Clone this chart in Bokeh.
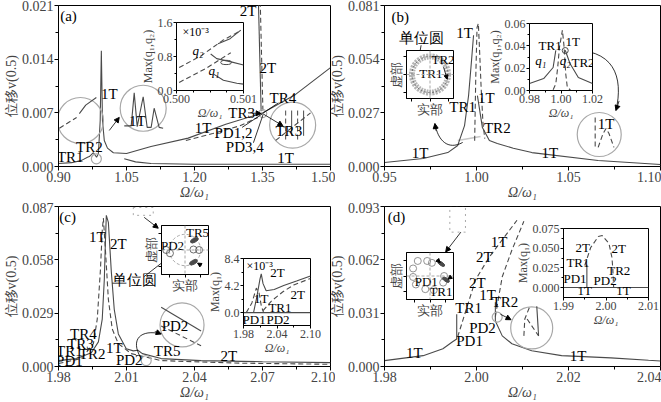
import math
from bokeh.plotting import figure
from bokeh.models import (GridBox, Range1d, FixedTicker, PrintfTickFormatter,
                          CustomJSTickFormatter, Arrow, NormalHead, Span)
from bokeh.embed import file_html
from bokeh.resources import INLINE
from bokeh.core.properties import value

FONT = "Liberation Serif"
INK = "#4a4a4a"
PALE = "#a8a8a8"
DASH = "5 3"
FS_MAIN = "14px"
FS_TXT = "15px"
FS_IN = "12px"

# ======================= DATA =======================
# ---- panel (a) ----
a_xticks = [0.90, 1.05, 1.20, 1.35, 1.50]
a_yticks = [0.000, 0.007, 0.014, 0.021]
a_solid_x = [0.900, 0.929, 0.951, 0.964, 0.968, 0.977, 0.984, 0.988, 0.992, 0.9945, 0.997,
             1.001, 1.008, 1.021, 1.050, 1.104, 1.186, 1.269, 1.351, 1.423, 1.500]
a_solid_y = [0.0004, 0.0005, 0.0008, 0.0012, 0.0013, 0.0018, 0.0012, 0.0017, 0.0060, 0.0151, 0.0060,
             0.0034, 0.0024, 0.0018, 0.0017, 0.0026, 0.0037, 0.0055, 0.0070, 0.0094, 0.0129]
a_dash_x = [1.181, 1.240, 1.300, 1.340]
a_dash_y = [0.0034, 0.0043, 0.0053, 0.0064]
a_low_x = [1.045, 1.070, 1.104, 1.200, 1.350, 1.500]
a_low_y = [0.0010, 0.0006, 0.0004, 0.0003, 0.0003, 0.0003]
a_2t_solid_x = [1.341, 1.347]
a_2t_solid_y = [0.0215, 0.0072]
a_2t_dash_x = [1.345, 1.351]
a_2t_dash_y = [0.0215, 0.0071]
a_txt = ["(a)", "1T", "1T", "TR2", "TR1", "1T", "2T", "2T", "TR4", "TR3", "PD1,2", "PD3,4", "TR3", "1T"]
a_txt_x = [0.922, 1.012, 1.074, 0.968, 0.926, 1.219, 1.318, 1.362, 1.395, 1.304, 1.286, 1.311, 1.408, 1.401]
a_txt_y = [0.0196, 0.0095, 0.0059, 0.0026, 0.0013, 0.0050, 0.0203, 0.0129, 0.0090, 0.0070, 0.0044, 0.0025, 0.0046, 0.0011]
a_circ_x = [0.9484, 1.0868, 1.4165, 0.9835, 1.3505]
a_circ_y = [0.0060, 0.0076, 0.0054, 0.0010, 0.0069]
a_circ_d = [46, 46, 46, 10, 8]
a_zl_solid_x = [0.946, 0.960, 0.9835]
a_zl_solid_y = [0.0069, 0.0080, 0.0090]
a_zl_dash_x = [0.902, 0.940]
a_zl_dash_y = [0.0050, 0.0064]
a_zm_x = [1.0451, 1.0604, 1.067, 1.0736, 1.0868, 1.0956, 1.1044, 1.111, 1.122, 1.1308]
a_zm_y = [0.0053, 0.0053, 0.0096, 0.0052, 0.0091, 0.0051, 0.0051, 0.0076, 0.0051, 0.0050]
a_zr_dash_x = [1.4011, 1.4275]
a_zr_solid_x = [1.4143, 1.4407]
a_zr_diag_x = [1.3791, 1.4560]
a_zr_diag_y = [0.0034, 0.0070]
a_lead_x0 = [1.305, 1.330, 1.385]
a_lead_y0 = [0.0051, 0.0031, 0.0083]
a_lead_x1 = [1.3505, 1.352, 1.352]
a_lead_y1 = [0.0069, 0.0069, 0.0070]

# inset (a)
ia_q2d_x = [0.50004, 0.50037, 0.50069, 0.50096]
ia_q2d_y = [0.54, 0.82, 1.18, 1.41]
ia_q2s_x = [0.50062, 0.50080, 0.50096]
ia_q2s_y = [1.10, 1.22, 1.42]
ia_q1d_x = [0.50004, 0.50044, 0.50081]
ia_q1d_y = [0.19, 0.52, 0.89]
ia_q1s_x = [0.50051, 0.50060, 0.50080, 0.50100]
ia_q1s_y = [0.86, 0.75, 0.68, 0.60]
ia_q1l_x = [0.50056, 0.50070, 0.50090, 0.50100]
ia_q1l_y = [0.38, 0.24, 0.17, 0.15]

# ---- panel (b) ----
b_xticks = [0.95, 1.00, 1.05, 1.10]
b_yticks = [0.000, 0.027, 0.054, 0.081]
b_left_x = [0.950, 0.971, 0.9844, 0.9898, 0.9935, 0.9957, 0.9973, 0.9984]
b_left_y = [0.0020, 0.0040, 0.0070, 0.0106, 0.0206, 0.0357, 0.0533, 0.0660]
b_right_x = [1.0005, 1.0032, 1.0070, 1.0113, 1.0200, 1.0301, 1.0661, 1.1000]
b_right_y = [0.0357, 0.0196, 0.0131, 0.0116, 0.0092, 0.0070, 0.0030, 0.0010]
b_dash_x = [0.9990, 0.9996, 1.0003, 1.0010, 1.0016, 1.0025, 1.0035, 1.0045]
b_dash_y = [0.013, 0.045, 0.070, 0.072, 0.060, 0.040, 0.022, 0.014]
b_pale_x = [0.9898, 1.0022]
b_pale_y = [0.0131, 0.0151]
b_txt = ["(b)", "1T", "1T", "TR1", "TR2", "1T", "1T", "单位圆", "1T"]
b_txt_x = [0.9586, 0.9935, 1.0054, 0.9925, 1.0113, 0.9694, 1.0398, 0.9699, 1.0704]
b_txt_y = [0.0750, 0.0674, 0.0347, 0.0297, 0.0196, 0.0070, 0.0070, 0.0644, 0.0216]
b_circ_x = [1.0667]
b_circ_y = [0.0161]
b_zc_dash1_x = [1.0645, 1.0645]
b_zc_dash1_y = [0.0247, 0.0096]
b_zc_arch_x = [1.0661, 1.0688, 1.0704, 1.0720, 1.0747]
b_zc_arch_y = [0.0096, 0.0166, 0.0191, 0.0166, 0.0096]

# inset (b) phase + max
ib1_txt = ["TR1", "TR2"]
ib1_txt_x = [0.05, 0.72]
ib1_txt_y = [0.06, 0.80]
ib2_q1l_x = [0.980, 0.989, 0.995, 0.9967]
ib2_q1l_y = [0.0063, 0.0107, 0.0206, 0.0360]
ib2_q1r_x = [1.0027, 1.0057, 1.0110, 1.0200]
ib2_q1r_y = [0.0360, 0.0242, 0.0116, 0.0063]
ib2_q2_x = [0.9950, 0.9967, 0.9979, 0.9990, 1.0009, 1.0020, 1.0030, 1.0040, 1.0060]
ib2_q2_y = [0.0007, 0.0060, 0.0206, 0.0385, 0.0540, 0.0385, 0.0150, 0.0030, 0.0003]
ib2_txt = ["TR1", "1T", "TR2"]
ib2_txt_x = [0.9931, 1.0075, 1.0140]
ib2_txt_y = [0.0403, 0.0439, 0.0251]
ib2_q_txt = ["q₁", "q₂"]
ib2_q_x = [0.9872, 1.0027]
ib2_q_y = [0.0269, 0.0269]

# ---- panel (c) ----
c_xticks = [1.98, 2.01, 2.04, 2.07, 2.10]
c_yticks = [0.000, 0.029, 0.058, 0.087]
c_solid_x = [1.980, 1.988, 1.9945, 1.9976, 1.9993, 2.0002, 2.0007, 2.0011, 2.0020, 2.0033, 2.0046,
             2.0064, 2.0099, 2.0130, 2.0150, 2.0170, 2.0253, 2.0429, 2.0700, 2.1000]
c_solid_y = [0.0032, 0.0043, 0.0075, 0.0134, 0.0258, 0.0470, 0.0680, 0.0822, 0.0784, 0.0516, 0.0310,
             0.0177, 0.0097, 0.0085, 0.0088, 0.0070, 0.0043, 0.0032, 0.0026, 0.0021]
c_dash_x = [1.980, 1.990, 1.9954, 1.9971, 1.9985, 1.9993, 1.9998, 2.0007, 2.0020, 2.0037, 2.0064,
            2.0121, 2.0253, 2.0600, 2.1000]
c_dash_y = [0.0016, 0.0043, 0.0124, 0.0258, 0.0526, 0.0740, 0.0807, 0.0634, 0.0365, 0.0204, 0.0124,
            0.0070, 0.0032, 0.0018, 0.0012]
c_txt = ["(c)", "1T", "2T", "TR4", "TR3", "TR1", "PD1", "TR2", "1T", "PD2", "TR5", "PD2", "单位圆", "2T"]
c_txt_x = [1.984, 1.9971, 2.0064, 1.991, 1.9897, 1.9848, 1.9848, 1.9949, 2.0046, 2.0112, 2.0279, 2.0314, 2.0134, 2.0552]
c_txt_y = [0.0811, 0.0703, 0.0666, 0.0177, 0.0124, 0.0083, 0.0030, 0.0070, 0.0102, 0.0034, 0.0086, 0.0220, 0.0473, 0.0059]
c_circ_x = [2.0345, 2.0187]
c_circ_y = [0.0226, 0.0032]
c_circ_d = [44, 10]
c_zc_solid_x = [2.0253, 2.0429]
c_zc_solid_y = [0.0322, 0.0193]
c_zc_dash_x = [2.0253, 2.0429]
c_zc_dash_y = [0.0220, 0.0113]
c_rect = [2.0130, 2.0218, 0.0822, 0.0865]

# inset (c) phase + max
ic1_txt = ["PD2", "TR5"]
ic1_txt_x = [-0.80, 0.80]
ic1_txt_y = [0.30, 1.05]
ic1_ring_x = [-1.20, -0.96, 0.54, 0.90]
ic1_ring_y = [0.00, -0.20, 0.03, 0.00]
ic1_blob_x = [0.54, 0.60]
ic1_blob_y = [-0.75, 0.60]
ic2_zero_x = [1.98, 2.10]
ic2_zero_y = [0.0, 0.0]
ic2_2ts_x = [1.998, 2.004, 2.0095, 2.0118, 2.0150, 2.0206, 2.0350, 2.0520, 2.0750, 2.1000]
ic2_2ts_y = [0.0, 2.5, 5.2, 6.0, 4.5, 3.4, 3.6, 4.2, 4.9, 5.7]
ic2_1td_x = [1.985, 1.995, 2.003, 2.008, 2.012, 2.016]
ic2_1td_y = [0.0, 1.5, 3.8, 3.0, 1.0, 0.0]
ic2_2td_x = [2.015, 2.030, 2.050, 2.070, 2.100]
ic2_2td_y = [0.3, 1.8, 3.2, 4.3, 5.3]
ic2_txt = ["2T", "2T", "1T", "TR1", "PD1", "PD2"]
ic2_txt_x = [2.041, 2.077, 2.0118, 2.0453, 1.9990, 2.0418]
ic2_txt_y = [6.2, 2.8, 2.18, 0.78, -1.0, -1.0]

# ---- panel (d) ----
d_xticks = [1.98, 2.00, 2.02, 2.04]
d_yticks = [0.000, 0.031, 0.062, 0.093]
d_left_x = [1.980, 1.9884, 1.9927, 1.9948, 1.9957, 1.9957]
d_left_y = [0.0034, 0.0063, 0.0103, 0.0144, 0.0160, 0.0304]
d_right_x = [2.0041, 2.0041, 2.0056, 2.0077, 2.0120, 2.0185, 2.0292, 2.0374, 2.0400]
d_right_y = [0.0373, 0.0264, 0.0178, 0.0132, 0.0092, 0.0063, 0.0050, 0.0036, 0.0032]
d_dash1_x = [1.9959, 1.9998, 2.0028, 2.0088]
d_dash1_y = [0.0172, 0.0505, 0.0637, 0.0850]
d_dash2_x = [2.0041, 2.0048, 2.0056, 2.0077, 2.0103]
d_dash2_y = [0.0290, 0.0400, 0.0522, 0.0677, 0.0844]
d_txt = ["(d)", "1T", "TR1", "PD1", "PD2", "TR2", "2T", "1T", "2T", "1T", "1T"]
d_txt_x = [1.9826, 1.9865, 1.9983, 1.9985, 2.0013, 2.0062, 2.0002, 2.0024, 2.0017, 2.0049, 2.0221]
d_txt_y = [0.0867, 0.0080, 0.0339, 0.0149, 0.0224, 0.0373, 0.0488, 0.0413, 0.0637, 0.0723, 0.0063]
d_circ_x = [2.0120, 2.0045]
d_circ_y = [0.0224, 0.0287]
d_circ_d = [42, 10]
d_zc_dash_x = [2.0103, 2.0105, 2.0116]
d_zc_dash_y = [0.0178, 0.0276, 0.0350]
d_zc_solid_x = [2.0131, 2.0135]
d_zc_solid_y = [0.0350, 0.0178]
d_zc_link_x = [2.0110, 2.0135]
d_zc_link_y = [0.0276, 0.0178]
d_rect = [1.9942, 1.9976, 0.0781, 0.0935]

# inset (d) phase + max
id1_ring_x = [-0.78, -0.18, 0.12, -1.08, -1.08, -0.90, -0.30, 0.24, 0.84, 0.90]
id1_ring_y = [0.96, 0.96, 0.84, 0.48, -0.06, -0.54, -0.84, -0.90, -0.42, 0.00]
id1_blob_x = [0.72, 1.02]
id1_blob_y = [0.78, -0.24]
id1_txt = ["PD1", "TR1"]
id1_txt_x = [-0.24, 0.70]
id1_txt_y = [-0.36, -1.02]
id2_zero_x = [1.99, 2.01]
id2_zero_y = [0.0, 0.0]
id2_tr1_x = [1.9955, 1.9955]
id2_tr1_y = [0.0, 0.029]
id2_arch_x = [1.9950, 1.9964, 1.9982, 1.9991, 2.0007, 2.0014, 2.0016, 2.0018]
id2_arch_y = [0.028, 0.0508, 0.0648, 0.0660, 0.0559, 0.0381, 0.0240, 0.0]
id2_txt = ["2T", "2T", "TR1", "PD1", "PD2", "TR2", "1T", "1T"]
id2_txt_x = [1.9945, 2.0030, 1.9934, 1.9927, 1.9998, 2.0030, 1.9950, 2.0041]
id2_txt_y = [0.0508, 0.0496, 0.0318, 0.0114, 0.0089, 0.0216, -0.0036, -0.0036]

# ======================= HELPERS =======================
def minor_of(t):
    return [(a + b) / 2 for a, b in zip(t[:-1], t[1:])]


def base_fig(box, borders, xr, yr, clear=False):
    l, t, r, b = box
    bl, br, bt, bb = borders
    p = figure(width=r - l, height=b - t, x_range=Range1d(*xr), y_range=Range1d(*yr),
               output_backend="svg", toolbar_location=None,
               min_border_left=bl, min_border_right=br, min_border_top=bt, min_border_bottom=bb)
    p.xgrid.visible = False
    p.ygrid.visible = False
    p.outline_line_color = "black"
    p.outline_line_alpha = 1.0
    p.outline_line_width = 1
    if clear:
        p.border_fill_alpha = 0
    return p


def dress(p, xt, yt, xfmt, yfmt, fs, xlabel, ylabel, tout=4, mout=3, blank=False):
    p.xaxis.ticker = FixedTicker(ticks=xt, minor_ticks=minor_of(xt))
    p.yaxis.ticker = FixedTicker(ticks=yt, minor_ticks=minor_of(yt))
    if blank:
        p.xaxis.formatter = CustomJSTickFormatter(code="return ''")
        p.yaxis.formatter = CustomJSTickFormatter(code="return ''")
    else:
        p.xaxis.formatter = PrintfTickFormatter(format=xfmt)
        p.yaxis.formatter = PrintfTickFormatter(format=yfmt)
    p.xaxis.axis_label = xlabel
    p.yaxis.axis_label = ylabel
    for ax in (p.xaxis[0], p.yaxis[0]):
        ax.major_label_text_font = FONT
        ax.major_label_text_font_size = "1px" if blank else fs
        ax.axis_label_text_font = FONT
        ax.axis_label_text_font_size = fs if not blank else "13px"
        ax.axis_label_text_font_style = "normal"
        ax.major_tick_in = 0
        ax.major_tick_out = tout
        ax.minor_tick_in = 0
        ax.minor_tick_out = mout
        ax.major_label_standoff = 1
        ax.axis_label_standoff = 0
        ax.axis_line_color = "black"
        ax.major_tick_line_color = "black"
        ax.minor_tick_line_color = "black"
    if xlabel.startswith("Ω"):
        p.xaxis.axis_label_text_font_style = "italic"


def texts(p, xs, ys, tx, size=FS_TXT, style="normal", align="center", angle=0.0):
    p.text(x=xs, y=ys, text=tx, text_font=value(FONT), text_font_size=value(size),
           text_font_style=style, text_align=align, text_baseline="middle",
           angle=angle, text_color="black")


def arrow(p, x0, y0, x1, y1, size=5):
    p.add_layout(Arrow(end=NormalHead(size=size, fill_color="black", line_color="black"),
                       x_start=x0, y_start=y0, x_end=x1, y_end=y1,
                       line_color="black", line_width=0.8))


def solid(p, x, y, color=INK, w=1.1):
    p.line(x, y, line_color=color, line_width=w)


def dashed(p, x, y, color=INK, w=1.1):
    p.line(x, y, line_color=color, line_width=w, line_dash=DASH)


def cross(p):
    p.add_layout(Span(location=0, dimension="width", line_color=PALE, line_dash="3 2", line_width=1))
    p.add_layout(Span(location=0, dimension="height", line_color=PALE, line_dash="3 2", line_width=1))


XLAB = "Ω/ω₁"
YLAB = "位移v(0.5)"
items = []

# ======================= PANEL (a) =======================
FA_box = (0, 0, 335, 202)
pa = base_fig(FA_box, (57, 5, 5, 36), (0.90, 1.50), (0.0, 0.021))
dress(pa, a_xticks, a_yticks, "%.2f", "%.3f", FS_MAIN, XLAB, YLAB)
solid(pa, a_solid_x, a_solid_y)
dashed(pa, a_dash_x, a_dash_y)
solid(pa, a_low_x, a_low_y)
solid(pa, a_2t_solid_x, a_2t_solid_y)
dashed(pa, a_2t_dash_x, a_2t_dash_y)
pa.scatter(a_circ_x, a_circ_y, size=a_circ_d, marker="circle", fill_color=None, line_color=PALE, line_width=1.2)
solid(pa, a_zl_solid_x, a_zl_solid_y)
dashed(pa, a_zl_dash_x, a_zl_dash_y)
solid(pa, a_zm_x, a_zm_y)
pa.segment(x0=a_zr_dash_x, y0=[0.0073] * 2, x1=a_zr_dash_x, y1=[0.0034] * 2, line_color=INK, line_dash=DASH)
pa.segment(x0=a_zr_solid_x, y0=[0.0073] * 2, x1=a_zr_solid_x, y1=[0.0040] * 2, line_color=INK)
dashed(pa, a_zr_diag_x, a_zr_diag_y)
pa.segment(x0=a_lead_x0, y0=a_lead_y0, x1=a_lead_x1, y1=a_lead_y1, line_color="black", line_width=0.8)
arrow(pa, 1.318, 0.0070, 1.347, 0.0069)
arrow(pa, 1.353, 0.0068, 1.395, 0.0053)
arrow(pa, 1.012, 0.0047, 1.034, 0.0064)
texts(pa, a_txt_x, a_txt_y, a_txt)
items.append((pa, FA_box))

# ======================= PANEL (b) =======================
FB_box = (326, 0, 661, 202)
pb = base_fig(FB_box, (55, 1, 5, 36), (0.95, 1.10), (0.0, 0.081), clear=True)
dress(pb, b_xticks, b_yticks, "%.2f", "%.3f", FS_MAIN, XLAB, YLAB)
solid(pb, b_pale_x, b_pale_y, color="#c8c8c8", w=1.5)
solid(pb, b_left_x, b_left_y)
solid(pb, b_right_x, b_right_y)
dashed(pb, b_dash_x, b_dash_y)
pb.scatter(b_circ_x, b_circ_y, size=44, marker="circle", fill_color=None, line_color=PALE, line_width=1.2)
dashed(pb, b_zc_dash1_x, b_zc_dash1_y)
dashed(pb, b_zc_arch_x, b_zc_arch_y)
pb.bezier(x0=[1.0489], y0=[0.0584], x1=[1.0758], y1=[0.0282], cx0=[1.0750], cy0=[0.0600],
          cx1=[1.0800], cy1=[0.0450], line_color="black", line_width=0.8)
arrow(pb, 1.0775, 0.0330, 1.0758, 0.0282)
pb.bezier(x0=[0.9925], y0=[0.0121], x1=[0.9774], y1=[0.0216], cx0=[0.9844], cy0=[0.0080],
          cx1=[0.9790], cy1=[0.0131], line_color="black", line_width=0.8)
arrow(pb, 0.9780, 0.0180, 0.9774, 0.0216)
arrow(pb, 0.9699, 0.0610, 0.9688, 0.0553)
texts(pb, b_txt_x, b_txt_y, b_txt)
items.append((pb, FB_box))

# ======================= PANEL (c) =======================
FC_box = (0, 202, 335, 402)
pc = base_fig(FC_box, (57, 5, 4, 34), (1.98, 2.10), (0.0, 0.087))
dress(pc, c_xticks, c_yticks, "%.2f", "%.3f", FS_MAIN, XLAB, YLAB)
solid(pc, c_solid_x, c_solid_y)
dashed(pc, c_dash_x, c_dash_y)
pc.scatter(c_circ_x, c_circ_y, size=c_circ_d, marker="circle", fill_color=None, line_color=PALE, line_width=1.2)
solid(pc, c_zc_solid_x, c_zc_solid_y)
dashed(pc, c_zc_dash_x, c_zc_dash_y)
pc.quad(left=[c_rect[0]], right=[c_rect[1]], bottom=[c_rect[2]], top=[c_rect[3]],
        fill_color=None, line_color=PALE, line_dash="dotted")
arrow(pc, 2.0178, 0.0811, 2.0240, 0.0752)
arrow(pc, 2.0178, 0.0489, 2.0283, 0.0590)
pc.bezier(x0=[2.0165], y0=[0.0043], x1=[2.0253], y1=[0.0177], cx0=[2.0112], cy0=[0.0150],
          cx1=[2.0165], cy1=[0.0204], line_color="black", line_width=0.8)
arrow(pc, 2.0225, 0.0190, 2.0253, 0.0177)
texts(pc, c_txt_x, c_txt_y, c_txt)
items.append((pc, FC_box))

# ======================= PANEL (d) =======================
FD_box = (326, 202, 661, 402)
pd = base_fig(FD_box, (55, 1, 4, 34), (1.98, 2.04), (0.0, 0.093), clear=True)
dress(pd, d_xticks, d_yticks, "%.2f", "%.3f", FS_MAIN, XLAB, YLAB)
solid(pd, d_left_x, d_left_y)
solid(pd, d_right_x, d_right_y)
dashed(pd, d_dash1_x, d_dash1_y)
dashed(pd, d_dash2_x, d_dash2_y)
pd.scatter(d_circ_x, d_circ_y, size=d_circ_d, marker="circle", fill_color=None, line_color=PALE, line_width=1.2)
dashed(pd, d_zc_dash_x, d_zc_dash_y)
solid(pd, d_zc_solid_x, d_zc_solid_y)
dashed(pd, d_zc_link_x, d_zc_link_y)
pd.quad(left=[d_rect[0]], right=[d_rect[1]], bottom=[d_rect[2]], top=[d_rect[3]],
        fill_color=None, line_color=PALE, line_dash="dotted")
arrow(pd, 1.9966, 0.0781, 1.9933, 0.0666)
arrow(pd, 2.0052, 0.0304, 2.0075, 0.0272)
texts(pd, d_txt_x, d_txt_y, d_txt)
items.append((pd, FD_box))


# ======================= INSETS =======================
def inset(frame, borders, xr, yr):
    x0, y0, x1, y1 = frame
    bl, br, bt, bb = borders
    box = (x0 - bl, y0 - bt, x1 + br, y1 + bb)
    return base_fig(box, borders, xr, yr, clear=True), box


# inset (a)
ia, ia_box = inset((175, 22, 243, 90), (38, 14, 7, 32), (0.500, 0.501), (0.0, 1.6))
dress(ia, [0.500, 0.501], [0.0, 0.8, 1.6], "%.3f", "%.1f", FS_IN, XLAB, "Max(q₁,q₂)", tout=3, mout=2)
ia.xaxis.ticker = FixedTicker(ticks=[0.500, 0.501], minor_ticks=[0.50025, 0.5005, 0.50075])
dashed(ia, ia_q2d_x, ia_q2d_y)
solid(ia, ia_q2s_x, ia_q2s_y)
dashed(ia, ia_q1d_x, ia_q1d_y)
solid(ia, ia_q1s_x, ia_q1s_y)
solid(ia, ia_q1l_x, ia_q1l_y)
ia.ellipse(x=[0.50074], y=[0.66], width=0.00016, height=0.10, fill_color=None, line_color=INK)
texts(ia, [0.50009], [1.37], ["×10⁻³"], size=FS_IN, align="left")
texts(ia, [0.50032, 0.50056], [0.94, 0.47], ["q₂", "q₁"], size="13px", style="italic")
items.append((ia, ia_box))

# inset (b) phase
ib1, ib1_box = inset((403, 50, 453, 99), (18, 16, 2, 20), (-1.3, 1.3), (-1.3, 1.3))
dress(ib1, [-1.0, 0.0, 1.0], [-1.0, 0.0, 1.0], "", "", "13px", "实部", "虚部", tout=3, mout=0, blank=True)
cross(ib1)
ib1.circle(x=[0.0], y=[0.0], radius=1.0, fill_color=None, line_color="#b5b5b5", line_width=6, line_dash="2 1")
ib1.circle(x=[0.0], y=[0.0], radius=1.0, fill_color=None, line_color=INK, line_width=0.7, line_dash="2 2")
texts(ib1, ib1_txt_x, ib1_txt_y, ib1_txt, size="13px")
arrow(ib1, 0.75, 0.40, 0.95, -0.25, size=4)
items.append((ib1, ib1_box))

# inset (b) max
ib2, ib2_box = inset((525, 23, 592, 90), (41, 12, 7, 32), (0.98, 1.02), (0.0, 0.06))
dress(ib2, [0.98, 1.00, 1.02], [0.00, 0.02, 0.04, 0.06], "%.2f", "%.2f", FS_IN, XLAB, "Max(q₁,q₂)", tout=3, mout=2)
solid(ib2, ib2_q1l_x, ib2_q1l_y)
solid(ib2, ib2_q1r_x, ib2_q1r_y)
dashed(ib2, ib2_q2_x, ib2_q2_y)
ib2.scatter([1.0027], [0.0358], size=6, marker="circle", fill_color=None, line_color=INK)
texts(ib2, ib2_txt_x, ib2_txt_y, ib2_txt, size="13px")
texts(ib2, ib2_q_x, ib2_q_y, ib2_q_txt, size="13px", style="italic")
items.append((ib2, ib2_box))

# inset (c) phase
ic1, ic1_box = inset((158, 225, 208, 275), (18, 14, 2, 20), (-1.5, 1.5), (-1.5, 1.5))
dress(ic1, [-1.0, 0.0, 1.0], [-1.0, 0.0, 1.0], "", "", "13px", "实部", "虚部", tout=3, mout=0, blank=True)
cross(ic1)
ic1.circle(x=[0.0], y=[0.0], radius=1.0, fill_color=None, line_color=PALE, line_width=1, line_dash="3 2")
ic1.scatter(ic1_ring_x, ic1_ring_y, size=7, marker="circle", fill_color=None, line_color=INK, line_width=0.8)
ic1.ellipse(x=ic1_blob_x, y=ic1_blob_y, width=0.55, height=0.25, angle=0.5, fill_color=INK, line_color=INK)
arrow(ic1, 1.05, -0.95, 0.80, -0.80, size=4)
texts(ic1, ic1_txt_x, ic1_txt_y, ic1_txt, size="13px")
items.append((ic1, ic1_box))

# inset (c) max
ic2, ic2_box = inset((242, 258, 310, 325), (38, 12, 7, 32), (1.98, 2.10), (-2.0, 8.4))
dress(ic2, [1.98, 2.04, 2.10], [0.0, 4.2, 8.4], "%.2f", "%.1f", FS_IN, XLAB, "Max(q₁)", tout=3, mout=2)
solid(ic2, ic2_zero_x, ic2_zero_y)
solid(ic2, ic2_2ts_x, ic2_2ts_y)
dashed(ic2, ic2_1td_x, ic2_1td_y)
dashed(ic2, ic2_2td_x, ic2_2td_y)
texts(ic2, [1.9853], [7.16], ["×10⁻³"], size=FS_IN, align="left")
texts(ic2, ic2_txt_x, ic2_txt_y, ic2_txt, size="13px")
items.append((ic2, ic2_box))

# inset (d) phase
id1, id1_box = inset((403, 252, 453, 300), (18, 14, 2, 20), (-1.5, 1.5), (-1.5, 1.5))
dress(id1, [-1.0, 0.0, 1.0], [-1.0, 0.0, 1.0], "", "", "13px", "实部", "虚部", tout=3, mout=0, blank=True)
cross(id1)
id1.scatter(id1_ring_x, id1_ring_y, size=7, marker="circle", fill_color=None, line_color="#777777", line_width=0.8)
id1.ellipse(x=id1_blob_x, y=id1_blob_y, width=0.5, height=0.22, angle=-0.6, fill_color=INK, line_color=INK)
arrow(id1, 0.45, 1.05, 0.65, 0.85, size=4)
arrow(id1, 1.35, -0.05, 1.15, -0.20, size=4)
texts(id1, id1_txt_x, id1_txt_y, id1_txt, size="13px")
items.append((id1, id1_box))

# inset (d) max
id2, id2_box = inset((560, 228, 648, 297), (48, 12, 7, 32), (1.99, 2.01), (-0.0127, 0.075))
dress(id2, [1.99, 2.00, 2.01], [0.000, 0.025, 0.050, 0.075], "%.2f", "%.3f", FS_IN, XLAB, "Max(q₁)", tout=3, mout=2)
solid(id2, id2_zero_x, id2_zero_y)
solid(id2, id2_tr1_x, id2_tr1_y)
dashed(id2, id2_arch_x, id2_arch_y)
texts(id2, id2_txt_x, id2_txt_y, id2_txt, size="13px")
items.append((id2, id2_box))

# ======================= LAYOUT =======================
W, H = 661, 402
xe = sorted(set([0, W] + [b[0] for _, b in items] + [b[2] for _, b in items]))
ye = sorted(set([0, H] + [b[1] for _, b in items] + [b[3] for _, b in items]))
cols = [f"{b - a}px" for a, b in zip(xe[:-1], xe[1:])]
rows = [f"{b - a}px" for a, b in zip(ye[:-1], ye[1:])]
children = []
for fig, (l, t, r, b) in items:
    ci, ri = xe.index(l), ye.index(t)
    children.append((fig, ri, ci, ye.index(b) - ri, xe.index(r) - ci))

grid = GridBox(children=children, rows=rows, cols=cols, spacing=0)

with open("out.html", "w") as f:
    f.write(file_html(grid, INLINE))
